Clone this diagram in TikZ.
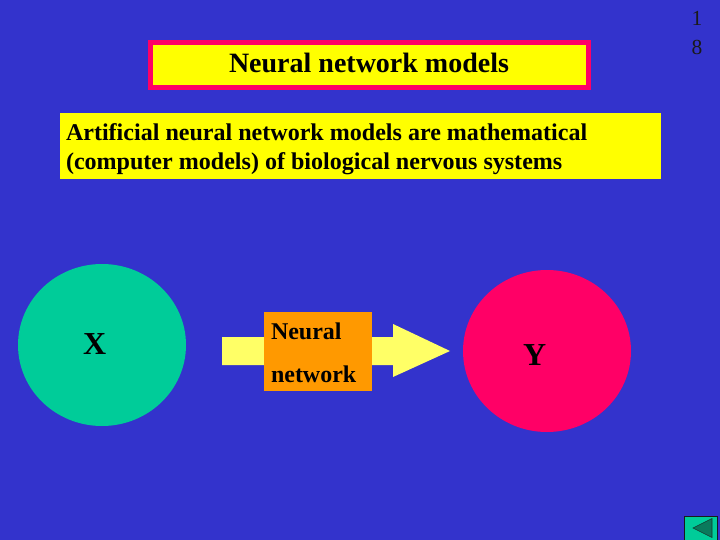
\documentclass[tikz,border=0pt]{standalone}
\usepackage{fontspec}
\setmainfont{Liberation Serif}
\usetikzlibrary{shapes.geometric}
\definecolor{bgblue}{HTML}{3333CC}
\definecolor{hotpink}{HTML}{FF0066}
\definecolor{tealgreen}{HTML}{00CC99}
\definecolor{paleyellow}{HTML}{FFFF66}
\definecolor{boxorange}{HTML}{FF9900}
\definecolor{darkteal}{HTML}{0A7A5C}
\definecolor{dim}{HTML}{1A1A1A}
\definecolor{pureyellow}{HTML}{FFFF00}
\tikzset{
  box/.style={inner sep=0pt,outer sep=0pt,anchor=north west},
  lbl/.style={inner sep=0pt,outer sep=0pt,anchor=base west,font=\bfseries\fontsize{24}{26}\selectfont,text=black},
  blob/.style={ellipse,inner sep=0pt,outer sep=0pt,minimum width=168pt,minimum height=162pt},
}
\begin{document}
\begin{tikzpicture}[x=1pt,y=-1pt]
\path[use as bounding box,fill=bgblue] (0,0) rectangle (720,540);
% title
\node[box,fill=pureyellow,draw=hotpink,line width=5pt,minimum width=438pt,minimum height=45pt] (title) at (150.5,42.5) {};
\node[lbl,font=\bfseries\fontsize{28}{30}\selectfont] (titletext) at (229,73) {Neural network models};
% definition
\node[box,fill=pureyellow,minimum width=601pt,minimum height=66pt] (defbox) at (60,113) {};
\node[lbl,font=\bfseries\fontsize{24.05}{26}\selectfont] (defa) at (66,141) {Artificial neural network models are mathematical};
\node[lbl,font=\bfseries\fontsize{24.05}{26}\selectfont] (defb) at (66,170) {(computer models) of biological nervous systems};
% circles
\node[blob,fill=tealgreen] (x) at (102,345) {};
\node[blob,fill=hotpink] (y) at (547,351) {};
\node[lbl,font=\bfseries\fontsize{32}{36}\selectfont] (xl) at (83,354) {X};
\node[lbl,font=\bfseries\fontsize{32}{36}\selectfont] (yl) at (523,365) {Y};
% block arrow
\fill[paleyellow] (222,337) -- (393,337) -- (393,324) -- (450,351) -- (393,377) -- (393,365) -- (222,365) -- cycle;
\node[box,fill=boxorange,minimum width=108pt,minimum height=79pt] (nn) at (264,312) {};
\node[lbl] (nna) at (271,339) {Neural};
\node[lbl] (nnb) at (271,382) {network};
% page number
\node[inner sep=0pt,anchor=base,font=\fontsize{21.5}{24}\selectfont,text=dim] (pa) at (697,26) {1};
\node[inner sep=0pt,anchor=base,font=\fontsize{21.5}{24}\selectfont,text=dim] (pb) at (697,55) {8};
% button
\fill[tealgreen,draw=dim,line width=1pt] (684.5,516.5) rectangle (717,545);
\fill[darkteal,draw=dim!70!darkteal,line width=.6pt] (693,528) -- (712,518.5) -- (712,537.5) -- cycle;
\end{tikzpicture}
\end{document}
